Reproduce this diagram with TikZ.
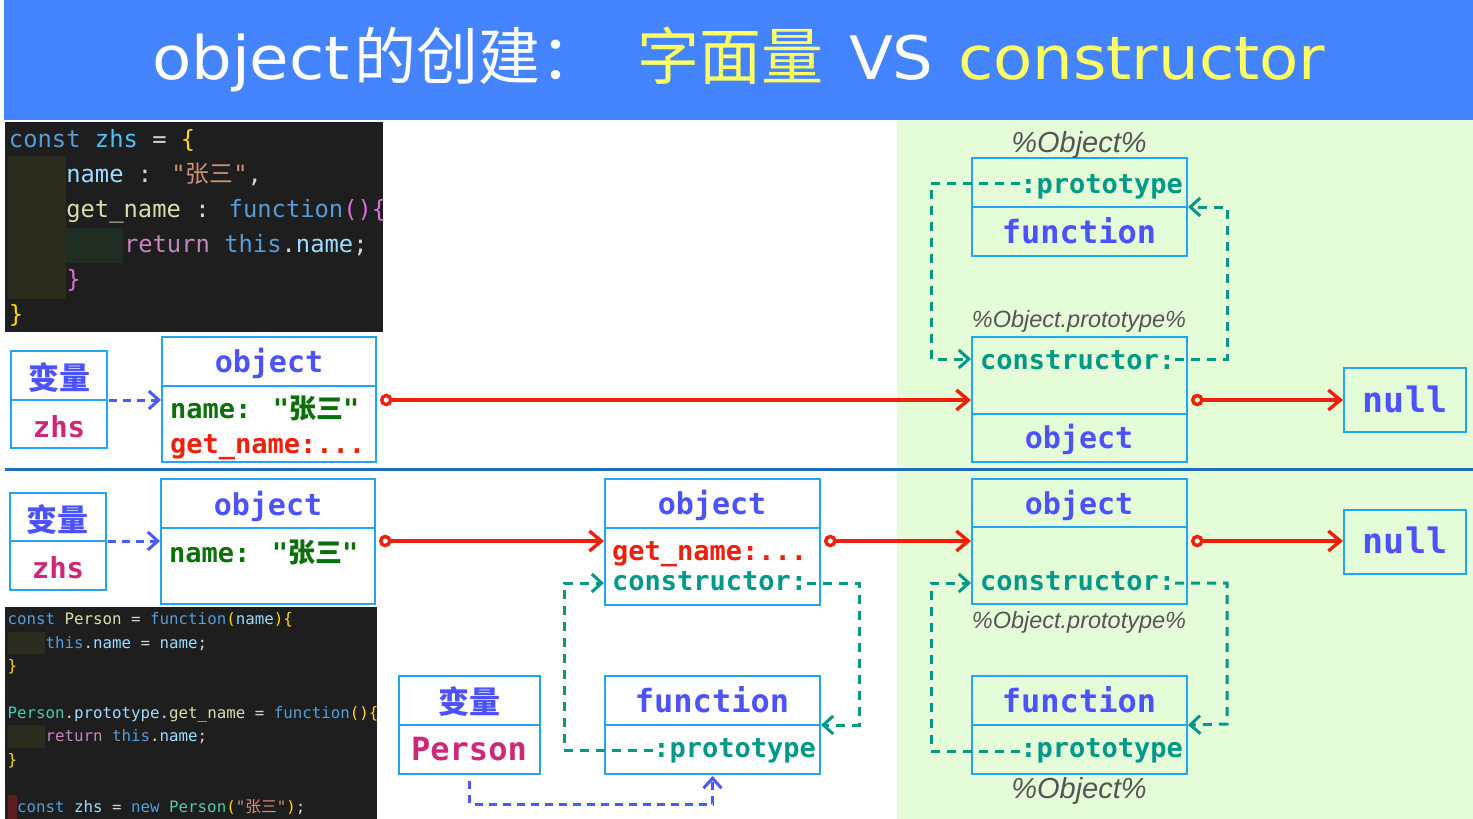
\documentclass[tikz,border=0pt]{standalone}
\usepackage{fontspec}
\usetikzlibrary{arrows.meta}
\setmainfont{DejaVu Sans}
\newfontfamily\mono{DejaVu Sans Mono}
\newfontfamily\cjk{Noto Sans CJK SC}
\newfontfamily\lab{Liberation Sans}
\definecolor{titleblue}{RGB}{69,132,255}
\definecolor{ttlyellow}{RGB}{255,255,100}
\definecolor{greenbg}{RGB}{228,252,216}
\definecolor{boxc}{RGB}{35,165,245}
\definecolor{vblue}{RGB}{76,82,255}
\definecolor{magc}{RGB}{205,40,120}
\definecolor{dgreen}{RGB}{10,112,10}
\definecolor{redc}{RGB}{238,32,12}
\definecolor{tealc}{RGB}{0,152,136}
\definecolor{greyc}{RGB}{85,85,85}
\definecolor{divc}{RGB}{30,112,182}
\definecolor{bdc}{RGB}{74,90,255}
\definecolor{codebg}{RGB}{30,30,30}
\definecolor{olive}{RGB}{44,44,30}
\definecolor{dkgreen}{RGB}{31,45,35}
\definecolor{redmark}{RGB}{92,30,30}
\definecolor{ckw}{RGB}{86,156,214}
\definecolor{cvar}{RGB}{156,220,254}
\definecolor{cconst}{RGB}{79,193,255}
\definecolor{cop}{RGB}{212,212,212}
\definecolor{cgold}{RGB}{255,215,0}
\definecolor{cpink}{RGB}{218,112,214}
\definecolor{cstr}{RGB}{206,145,120}
\definecolor{cfn}{RGB}{220,220,170}
\definecolor{cctl}{RGB}{197,134,192}
\definecolor{ccls}{RGB}{78,201,176}
\newcommand\kc[2]{\textcolor{#1}{#2}}
\newcommand\wide[1]{\scalebox{1.07}[1]{#1}}
\tikzset{
  cell/.style={draw=boxc, line width=1.8pt, anchor=north west, inner sep=0pt, outer sep=0pt},
  wcell/.style={cell, fill=white},
  txt/.style={inner sep=0pt, outer sep=0pt},
  cjkb/.style={txt, anchor=base, font=\cjk\bfseries\fontsize{31}{31}\selectfont, text=vblue},
  monob/.style={txt, anchor=base, font=\mono\bfseries\fontsize{30}{30}\selectfont, text=vblue},
  field/.style={txt, anchor=base west, font=\mono\bfseries\fontsize{27}{27}\selectfont},
  fieldr/.style={field, anchor=base east},
  lbl/.style={txt, anchor=base, font=\lab\itshape\fontsize{29}{29}\selectfont, text=greyc},
  lbls/.style={lbl, font=\lab\itshape\fontsize{23.5}{23.5}\selectfont},
  codeline/.style={txt, anchor=base west, font=\mono\fontsize{23.8}{23.8}\selectfont},
  codesm/.style={txt, anchor=base west, font=\mono\fontsize{15.8}{15.8}\selectfont},
  ttlw/.style={txt, anchor=base west, text=white, font=\fontsize{60}{60}\selectfont},
  ttly/.style={ttlw, text=ttlyellow},
  redarr/.style={draw=redc, line width=3.4pt, {Circle[open,length=12.5pt,width=12.5pt]}-{Straight Barb[length=12pt,width=20pt]}, shorten <=4pt, shorten >=1pt},
  bdash/.style={draw=bdc, line width=3pt, dash pattern=on 8pt off 6pt, -{Straight Barb[length=10pt,width=18pt]}},
  tdash/.style={draw=tealc, line width=3pt, dash pattern=on 9pt off 7pt, -{Straight Barb[length=10pt,width=18pt]}}
}
\begin{document}
\begin{tikzpicture}[x=1pt,y=-1pt]
\useasboundingbox (0,0) rectangle (1473,819);
\fill[white] (0,0) rectangle (1473,819);
\fill[titleblue] (4,0) rectangle (1473,119.5);
\fill[greenbg] (897,120) rectangle (1473,819);

% title
\node[ttlw] (ttl1) at (152,79) {\wide{object}};
\node[ttlw, font=\cjk\fontsize{62}{62}\selectfont] (ttl1c) at (354,79) {的创建：};
\node[ttly, font=\cjk\fontsize{62}{62}\selectfont] (ttl2) at (637,79) {字面量};
\node[ttlw] (ttl3) at (849,79) {\wide{VS}};
\node[ttly] (ttl4) at (958,79) {\wide{constructor}};

% divider
\draw[divc, line width=3pt] (5,469) -- (1473,469);

% top code block
\fill[codebg] (5,122) rectangle (383,332);
\fill[olive] (8,156) rectangle (66,299);
\fill[dkgreen] (66,228) rectangle (123,263);
\node[codeline] (ca1) at (9,147) {\kc{ckw}{const} \kc{cconst}{zhs} \kc{cop}{=} \kc{cgold}{\{}};
\node[codeline] (ca2) at (66.3,182) {\kc{cvar}{name} \kc{cop}{:} \kc{cstr}{"{\cjk 张三}"}\kc{cop}{,}};
\node[codeline] (ca3) at (66.3,217) {\kc{cfn}{get\_name} \kc{cop}{:} \kc{ckw}{function}\kc{cpink}{()\{}};
\node[codeline] (ca4) at (124,252) {\kc{cctl}{return} \kc{ckw}{this}\kc{cop}{.}\kc{cvar}{name}\kc{cop}{;}};
\node[codeline] (ca5) at (66.3,287) {\kc{cpink}{\}}};
\node[codeline] (ca6) at (9,322) {\kc{cgold}{\}}};

% bottom code block
\fill[codebg] (5,607) rectangle (377,819);
\fill[olive] (8,632) rectangle (45,654);
\fill[olive] (8,725) rectangle (45,748);
\fill[redmark] (7.5,795) rectangle (16.5,819);
\node[codesm] (cb1) at (7.5,624.5) {\kc{ckw}{const} \kc{cfn}{Person} \kc{cop}{=} \kc{ckw}{function}\kc{cgold}{(}\kc{cvar}{name}\kc{cgold}{)\{}};
\node[codesm] (cb2) at (45.5,648) {\kc{ckw}{this}\kc{cop}{.}\kc{cvar}{name} \kc{cop}{=} \kc{cvar}{name}\kc{cop}{;}};
\node[codesm] (cb3) at (7.5,671.3) {\kc{cgold}{\}}};
\node[codesm] (cb5) at (7.5,718) {\kc{ccls}{Person}\kc{cop}{.}\kc{cvar}{prototype}\kc{cop}{.}\kc{cfn}{get\_name} \kc{cop}{=} \kc{ckw}{function}\kc{cgold}{()\{}};
\node[codesm] (cb6) at (45.5,741.5) {\kc{cctl}{return} \kc{ckw}{this}\kc{cop}{.}\kc{cvar}{name}\kc{cop}{;}};
\node[codesm] (cb7) at (7.5,765) {\kc{cgold}{\}}};
\node[codesm] (cb9) at (17,812) {\kc{ckw}{const} \kc{cvar}{zhs} \kc{cop}{=} \kc{ckw}{new} \kc{ccls}{Person}\kc{cgold}{(}\kc{cstr}{"{\cjk 张三}"}\kc{cgold}{)}\kc{cop}{;}};

% ---------- top section boxes ----------
\node[wcell, minimum width=96pt, minimum height=49pt] (v1a) at (11,351) {};
\node[wcell, minimum width=96pt, minimum height=48pt] (v1b) at (11,400) {};
\node[wcell, minimum width=214pt, minimum height=49pt] (o1a) at (162,337) {};
\node[wcell, minimum width=214pt, minimum height=76pt] (o1b) at (162,386) {};
\node[cell, minimum width=215pt, minimum height=49pt] (f1a) at (972,158) {};
\node[cell, minimum width=215pt, minimum height=49pt] (f1b) at (972,207) {};
\node[cell, minimum width=215pt, minimum height=77pt] (p1a) at (972,337) {};
\node[cell, minimum width=215pt, minimum height=48pt] (p1b) at (972,414) {};
\node[cell, minimum width=122pt, minimum height=64pt] (n1) at (1344,368) {};

\node[cjkb] (v1t) at (59,389) {变量};
\node[monob, text=magc, font=\mono\bfseries\fontsize{29}{29}\selectfont] (v1n) at (59,437) {zhs};
\node[monob] (o1t) at (269,372) {object};
\node[field, text=dgreen] (o1f1) at (170,418) {name: "{\cjk 张三}"};
\node[field, text=redc] (o1f2) at (170,453) {get\_name:...};
\node[lbl] (l1) at (1079,152) {\%Object\%};
\node[fieldr, text=tealc] (f1p) at (1183,193) {:prototype};
\node[monob, font=\mono\bfseries\fontsize{32}{32}\selectfont] (f1t) at (1079,243) {function};
\node[lbls] (l2) at (1079,327) {\%Object.prototype\%};
\node[field, text=tealc] (c1) at (980,369) {constructor:};
\node[monob] (p1t) at (1079,448) {object};
\node[monob, font=\mono\bfseries\fontsize{35}{35}\selectfont] (n1t) at (1405,412) {null};

% ---------- bottom section boxes ----------
\node[wcell, minimum width=96pt, minimum height=48pt] (v2a) at (10,493) {};
\node[wcell, minimum width=96pt, minimum height=49pt] (v2b) at (10,541) {};
\node[wcell, minimum width=214pt, minimum height=49pt] (o2a) at (161,479) {};
\node[wcell, minimum width=214pt, minimum height=76pt] (o2b) at (161,528) {};
\node[wcell, minimum width=215pt, minimum height=49pt] (m2a) at (605,479) {};
\node[wcell, minimum width=215pt, minimum height=77pt] (m2b) at (605,528) {};
\node[cell, minimum width=215pt, minimum height=48pt] (p2a) at (972,479) {};
\node[cell, minimum width=215pt, minimum height=77pt] (p2b) at (972,527) {};
\node[cell, minimum width=122pt, minimum height=64pt] (n2) at (1344,510) {};
\node[wcell, minimum width=215pt, minimum height=49pt] (f2a) at (605,676) {};
\node[wcell, minimum width=215pt, minimum height=49pt] (f2b) at (605,725) {};
\node[cell, minimum width=215pt, minimum height=49pt] (f3a) at (972,676) {};
\node[cell, minimum width=215pt, minimum height=49pt] (f3b) at (972,725) {};
\node[wcell, minimum width=141pt, minimum height=49pt] (pva) at (399,676) {};
\node[wcell, minimum width=141pt, minimum height=49pt] (pvb) at (399,725) {};

\node[cjkb] (v2t) at (58,531) {变量};
\node[monob, text=magc, font=\mono\bfseries\fontsize{29}{29}\selectfont] (v2n) at (58,578) {zhs};
\node[monob] (o2t) at (268,515) {object};
\node[field, text=dgreen] (o2f1) at (169,562) {name: "{\cjk 张三}"};
\node[monob] (m2t) at (712,514) {object};
\node[field, text=redc] (m2f1) at (612,560) {get\_name:...};
\node[field, text=tealc] (c2) at (612,590) {constructor:};
\node[monob] (p2t) at (1079,514) {object};
\node[field, text=tealc] (c3) at (980,590) {constructor:};
\node[lbls] (l3) at (1079,628) {\%Object.prototype\%};
\node[monob, font=\mono\bfseries\fontsize{35}{35}\selectfont] (n2t) at (1405,553) {null};
\node[monob, font=\mono\bfseries\fontsize{32}{32}\selectfont] (f2t) at (712,712) {function};
\node[fieldr, text=tealc] (f2p) at (816,757) {:prototype};
\node[monob, font=\mono\bfseries\fontsize{32}{32}\selectfont] (f3t) at (1079,712) {function};
\node[fieldr, text=tealc] (f3p) at (1183,757) {:prototype};
\node[lbl] (l4) at (1079,798) {\%Object\%};
\node[cjkb] (pvt) at (469,713) {变量};
\node[monob, text=magc, font=\mono\bfseries\fontsize{32}{32}\selectfont] (pvn) at (469,760) {Person};

% ---------- connectors ----------
\coordinate (ry1) at (0,400);
\coordinate (ry2) at (0,541);
\coordinate (by) at (0,804);
\draw[redarr] (o1b.east |- ry1) -- (p1a.west |- ry1);
\draw[redarr] (p1a.east |- ry1) -- (n1.west |- ry1);
\draw[redarr] (o2b.east |- ry2) -- (m2b.west |- ry2);
\draw[redarr] (m2b.east |- ry2) -- (p2b.west |- ry2);
\draw[redarr] (p2b.east |- ry2) -- (n2.west |- ry2);

\draw[bdash, shorten <=2pt, shorten >=1pt] (v1a.south east) -- (v1a.south east -| o1b.west);
\draw[bdash, shorten <=2pt, shorten >=1pt] (v2a.south east) -- (v2a.south east -| o2b.west);
\draw[bdash, shorten <=7pt, shorten >=2pt] (pvb.south) -- (pvb.south |- by) -- (f2b.south |- by) -- (f2b.south);

\coordinate (tL1) at (931,183);
\coordinate (tL2) at (931,359);
\coordinate (tR1) at (1227,359);
\coordinate (tR2) at (1227,207);
\draw[tdash, shorten >=1pt] (f1p.west |- tL1) -- (tL1) -- (tL2) -- (p1a.west |- tL2);
\draw[tdash, shorten >=1pt] (c1.east |- tR1) -- (tR1) -- (tR2) -- (f1a.south east);

\coordinate (mL1) at (564,750);
\coordinate (mL2) at (564,583);
\coordinate (mR1) at (859,583);
\coordinate (mR2) at (859,725);
\draw[tdash, shorten >=1pt] (f2p.west |- mL1) -- (mL1) -- (mL2) -- (m2b.west |- mL2);
\draw[tdash, shorten >=1pt] (c2.east |- mR1) -- (mR1) -- (mR2) -- (f2a.south east);

\coordinate (rL1) at (931,751);
\coordinate (rL2) at (931,583);
\coordinate (rR1) at (1227,583);
\coordinate (rR2) at (1227,724);
\draw[tdash, shorten >=1pt] (f3p.west |- rL1) -- (rL1) -- (rL2) -- (p2b.west |- rL2);
\draw[tdash, shorten >=1pt] (c3.east |- rR1) -- (rR1) -- (rR2) -- (f3a.south east);
\end{tikzpicture}
\end{document}
